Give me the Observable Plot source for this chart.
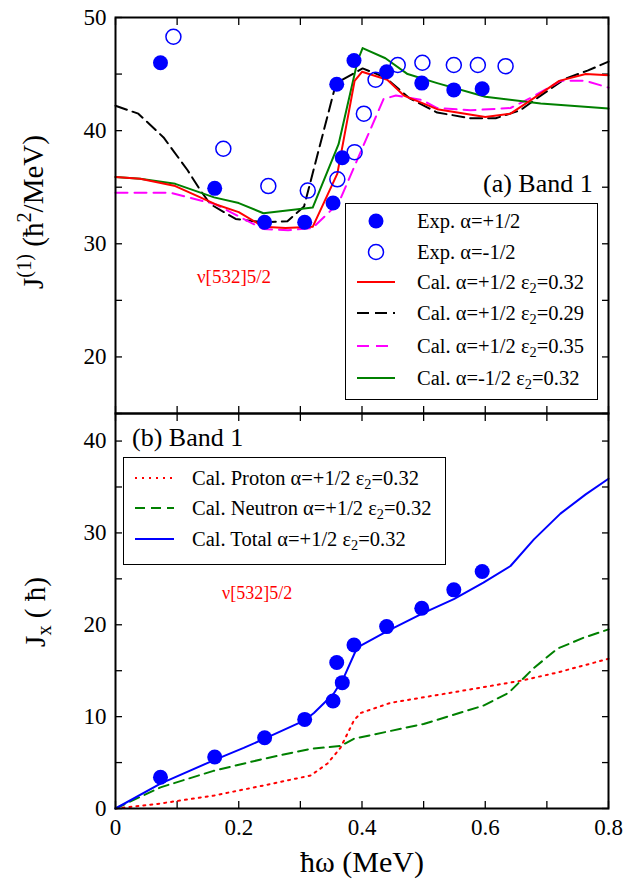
<!DOCTYPE html>
<html><head><meta charset="utf-8">
<script src="https://cdn.jsdelivr.net/npm/d3@7"></script>
<script src="https://cdn.jsdelivr.net/npm/@observablehq/plot@0.6"></script>
<style>
body{margin:0;background:#fff;}
#wrap{position:relative;width:625px;height:887px;font-family:"Liberation Serif","Times New Roman",serif;color:#000;}
#wrap svg{position:absolute;left:0;overflow:visible;}
.abs{position:absolute;white-space:nowrap;line-height:1;font-family:"Liberation Serif","Times New Roman",serif;}
.rot{transform:translate(-50%,-50%) rotate(-90deg);}
.leg{position:absolute;border:1.5px solid #000;background:#fff;box-sizing:border-box;}
sub{font-size:0.7em;vertical-align:-0.3em;line-height:0;}
sup{font-size:0.7em;vertical-align:0.55em;line-height:0;}
</style></head><body><div id="wrap"></div>
<script>
// ---- tick values ----
const xTicks = [0, 0.1, 0.2, 0.3, 0.4, 0.5, 0.6, 0.7, 0.8];
const xLabelTicks = [0, 0.2, 0.4, 0.6, 0.8];
const j1Ticks = [20, 30, 40, 50];
const j1MinorTicks = [15, 20, 25, 30, 35, 40, 45, 50];
const jxTicks = [0, 10, 20, 30, 40];
const jxMinorTicks = [0, 5, 10, 15, 20, 25, 30, 35, 40];

// ---- experimental data ----
const expPlusOmega = [0.073, 0.161, 0.242, 0.307, 0.353, 0.359, 0.368, 0.387, 0.44, 0.497, 0.549, 0.595];
const expPlusJ1 = [46.0, 34.9, 31.9, 31.9, 33.6, 44.1, 37.6, 46.2, 45.2, 44.2, 43.6, 43.7];
const expPlusJx = [3.4, 5.6, 7.7, 9.7, 11.7, 15.9, 13.7, 17.8, 19.8, 21.8, 23.8, 25.8];
const expMinusOmega = [0.094, 0.175, 0.248, 0.312, 0.36, 0.388, 0.403, 0.422, 0.458, 0.498, 0.549, 0.588, 0.633];
const expMinusJ1 = [48.3, 38.4, 35.1, 34.7, 35.7, 38.1, 41.5, 44.5, 45.8, 46.0, 45.8, 45.8, 45.7];

// ---- calculated J(1) ----
const calP032Omega = [0, 0.04, 0.097, 0.162, 0.2, 0.24, 0.276, 0.32, 0.36, 0.388, 0.40, 0.441, 0.468, 0.522, 0.6, 0.641, 0.674, 0.72, 0.763, 0.8];
const calP032J1 = [35.9, 35.75, 35.1, 33.5, 32.8, 31.5, 31.4, 31.5, 36.2, 44.4, 45.2, 44.5, 43.1, 41.9, 41.2, 41.5, 42.7, 44.4, 45.0, 44.9];
const calP029Omega = [0, 0.037, 0.078, 0.117, 0.138, 0.154, 0.195, 0.24, 0.279, 0.306, 0.357, 0.365, 0.401, 0.438, 0.476, 0.522, 0.576, 0.617, 0.657, 0.69, 0.73, 0.766, 0.8];
const calP029J1 = [42.2, 41.5, 39.4, 36.5, 34.7, 33.5, 32.2, 31.9, 32.0, 33.3, 44.0, 44.4, 45.5, 44.7, 42.9, 41.6, 41.1, 41.1, 41.8, 43.1, 44.6, 45.3, 46.1];
const calP035Omega = [0, 0.09, 0.162, 0.24, 0.28, 0.32, 0.362, 0.435, 0.455, 0.498, 0.522, 0.576, 0.641, 0.674, 0.722, 0.763, 0.8];
const calP035J1 = [34.5, 34.5, 33.5, 31.3, 31.2, 31.4, 33.6, 42.8, 43.1, 42.7, 42.0, 41.8, 42.0, 42.9, 44.4, 44.4, 43.8];
const calM032Omega = [0, 0.04, 0.097, 0.16, 0.2, 0.24, 0.32, 0.362, 0.393, 0.401, 0.438, 0.474, 0.522, 0.6, 0.69, 0.8];
const calM032J1 = [35.9, 35.75, 35.3, 34.1, 33.6, 32.7, 33.2, 38.8, 46.2, 47.3, 46.4, 45.0, 44.2, 43.0, 42.4, 41.95];

// ---- calculated Jx ----
const calTotalOmega = [0, 0.073, 0.161, 0.208, 0.242, 0.307, 0.322, 0.354, 0.37, 0.392, 0.441, 0.5, 0.549, 0.597, 0.641, 0.679, 0.722, 0.763, 0.8];
const calTotalJx = [0, 2.7, 5.3, 6.6, 7.6, 9.6, 10.4, 12.5, 14.2, 17.5, 19.3, 21.3, 22.8, 24.6, 26.4, 29.3, 32.1, 34.2, 35.9];
const calProtonOmega = [0, 0.068, 0.159, 0.24, 0.317, 0.344, 0.365, 0.387, 0.398, 0.446, 0.544, 0.657, 0.717, 0.8];
const calProtonJx = [0, 0.5, 1.4, 2.5, 3.6, 4.9, 6.6, 9.6, 10.4, 11.5, 12.6, 13.9, 14.8, 16.3];
const calNeutronOmega = [0, 0.073, 0.159, 0.24, 0.317, 0.365, 0.387, 0.5, 0.597, 0.638, 0.679, 0.717, 0.76, 0.8];
const calNeutronJx = [0, 2.3, 4.1, 5.4, 6.5, 6.8, 7.6, 9.2, 11.2, 12.6, 15.3, 17.4, 18.6, 19.5];

const rows = (xs, ys) => xs.map((x, i) => ({x, y: ys[i]}));

const font = '"Liberation Serif","Times New Roman",serif';
const W = 625, ML = 115, MR = 17;

function tickMarks(yMinor) {
  return [
    Plot.axisX({anchor: "bottom", ticks: xTicks, tickSize: -7, tickFormat: () => "", strokeWidth: 1.3, label: null}),
    Plot.axisX({anchor: "top", ticks: xTicks, tickSize: -7, tickFormat: () => "", strokeWidth: 1.3, label: null}),
    Plot.axisY({anchor: "left", ticks: yMinor, tickSize: -7, tickFormat: () => "", strokeWidth: 1.3, label: null}),
    Plot.axisY({anchor: "right", ticks: yMinor, tickSize: -7, tickFormat: () => "", strokeWidth: 1.3, label: null})
  ];
}

const topPlot = Plot.plot({
  width: W, height: 413, marginTop: 17, marginBottom: 0, marginLeft: ML, marginRight: MR,
  style: {fontFamily: font, fontSize: "23px", color: "#000", background: "transparent", overflow: "visible"},
  x: {domain: [0, 0.8]},
  y: {domain: [15, 50]},
  marks: [
    ...tickMarks(j1MinorTicks),
    Plot.axisY({anchor: "left", ticks: j1Ticks, tickSize: 0, tickPadding: 9, label: null, fontSize: 23, fontFamily: font}),
    Plot.line(rows(calP029Omega, calP029J1), {x: "x", y: "y", stroke: "#000", strokeWidth: 2, strokeDasharray: "12,6"}),
    Plot.line(rows(calP035Omega, calP035J1), {x: "x", y: "y", stroke: "#ff00ff", strokeWidth: 2, strokeDasharray: "12,7"}),
    Plot.line(rows(calM032Omega, calM032J1), {x: "x", y: "y", stroke: "#008000", strokeWidth: 2}),
    Plot.line(rows(calP032Omega, calP032J1), {x: "x", y: "y", stroke: "#ff0000", strokeWidth: 2}),
    Plot.dot(rows(expMinusOmega, expMinusJ1), {x: "x", y: "y", r: 7.5, stroke: "#0000ff", strokeWidth: 1.5, fill: "none"}),
    Plot.dot(rows(expPlusOmega, expPlusJ1), {x: "x", y: "y", r: 7.5, fill: "#0000ff", stroke: "none"}),
    Plot.frame({strokeWidth: 2})
  ]
});
topPlot.style.top = "0px";

const bottomPlot = Plot.plot({
  width: W, height: 474, marginTop: 0, marginBottom: 79, marginLeft: ML, marginRight: MR,
  style: {fontFamily: font, fontSize: "23px", color: "#000", background: "transparent", overflow: "visible"},
  x: {domain: [0, 0.8]},
  y: {domain: [0, 43]},
  marks: [
    ...tickMarks(jxMinorTicks),
    Plot.axisY({anchor: "left", ticks: jxTicks, tickSize: 0, tickPadding: 9, label: null, fontSize: 23, fontFamily: font}),
    Plot.axisX({anchor: "bottom", ticks: xLabelTicks, tickSize: 0, tickPadding: 10, label: null, fontSize: 23, fontFamily: font,
      tickFormat: d => d === 0 ? "0" : String(d)}),
    Plot.line(rows(calProtonOmega, calProtonJx), {x: "x", y: "y", stroke: "#ff0000", strokeWidth: 2, strokeDasharray: "2,5"}),
    Plot.line(rows(calNeutronOmega, calNeutronJx), {x: "x", y: "y", stroke: "#008000", strokeWidth: 2, strokeDasharray: "10,6"}),
    Plot.line(rows(calTotalOmega, calTotalJx), {x: "x", y: "y", stroke: "#0000ff", strokeWidth: 2}),
    Plot.dot(rows(expPlusOmega, expPlusJx), {x: "x", y: "y", r: 7.5, fill: "#0000ff", stroke: "none"}),
    Plot.frame({strokeWidth: 2})
  ]
});
bottomPlot.style.top = "413px";

const wrap = document.getElementById("wrap");
wrap.appendChild(topPlot);
wrap.appendChild(bottomPlot);

function addText(html, left, topPx, size, extra = "") {
  const d = document.createElement("div");
  d.className = "abs";
  d.style.cssText += `left:${left}px;top:${topPx}px;font-size:${size}px;${extra}`;
  d.innerHTML = html;
  wrap.appendChild(d);
  return d;
}

// axis titles
const yl1 = addText("J<sup>(1)</sup> (ħ<sup>2</sup>/MeV)", 33, 212, 29);
yl1.classList.add("rot");
const yl2 = addText("J<sub>x</sub> ( ħ)", 35, 612, 29);
yl2.classList.add("rot");
const xl = addText("ħω (MeV)", 362, 862, 30);
xl.style.transform = "translate(-50%,-50%)";

// annotations
addText("(a) Band 1", 483, 171, 26);
addText("(b) Band 1", 132, 425, 26);
addText("ν[532]5/2", 197, 267, 19, "color:#ff0000;");
addText("ν[532]5/2", 222, 584, 18, "color:#ff0000;");

// legends
function legend(left, topPx, w, h, entries, symX0, symX1, textX, size) {
  const box = document.createElement("div");
  box.className = "leg";
  box.style.cssText += `left:${left}px;top:${topPx}px;width:${w}px;height:${h}px;`;
  const ns = "http://www.w3.org/2000/svg";
  const svg = document.createElementNS(ns, "svg");
  svg.setAttribute("width", w); svg.setAttribute("height", h);
  svg.style.position = "absolute"; svg.style.left = "-1.5px"; svg.style.top = "-1.5px";
  box.appendChild(svg);
  entries.forEach(e => {
    if (e.type === "dot") {
      const c = document.createElementNS(ns, "circle");
      c.setAttribute("cx", (symX0 + symX1) / 2); c.setAttribute("cy", e.y); c.setAttribute("r", 7.5);
      c.setAttribute("fill", e.fill); c.setAttribute("stroke", e.stroke); c.setAttribute("stroke-width", 1.5);
      svg.appendChild(c);
    } else {
      const l = document.createElementNS(ns, "line");
      l.setAttribute("x1", symX0); l.setAttribute("x2", symX1); l.setAttribute("y1", e.y); l.setAttribute("y2", e.y);
      l.setAttribute("stroke", e.stroke); l.setAttribute("stroke-width", 2);
      if (e.dash) l.setAttribute("stroke-dasharray", e.dash);
      svg.appendChild(l);
    }
    const t = document.createElement("div");
    t.className = "abs";
    t.style.cssText += `left:${textX}px;top:${e.y - size * 0.55}px;font-size:${size}px;`;
    t.innerHTML = e.label;
    box.appendChild(t);
  });
  wrap.appendChild(box);
}

const eps = "ε<sub>2</sub>";
legend(345, 203, 253, 197, [
  {type: "dot", y: 18, fill: "#0000ff", stroke: "none", label: "Exp. α=+1/2"},
  {type: "dot", y: 49, fill: "none", stroke: "#0000ff", label: "Exp. α=-1/2"},
  {type: "line", y: 79, stroke: "#ff0000", label: `Cal. α=+1/2 ${eps}=0.32`},
  {type: "line", y: 110, stroke: "#000", dash: "12,6", label: `Cal. α=+1/2 ${eps}=0.29`},
  {type: "line", y: 143, stroke: "#ff00ff", dash: "12,7", label: `Cal. α=+1/2 ${eps}=0.35`},
  {type: "line", y: 175, stroke: "#008000", label: `Cal. α=-1/2 ${eps}=0.32`}
], 12, 50, 71, 20.5);

legend(123, 457, 323, 108, [
  {type: "line", y: 21, stroke: "#ff0000", dash: "2,5", label: `Cal. Proton α=+1/2 ${eps}=0.32`},
  {type: "line", y: 51, stroke: "#008000", dash: "10,6", label: `Cal. Neutron α=+1/2 ${eps}=0.32`},
  {type: "line", y: 82, stroke: "#0000ff", label: `Cal. Total α=+1/2 ${eps}=0.32`}
], 12, 51, 68, 20.5);
</script>
</body></html>
